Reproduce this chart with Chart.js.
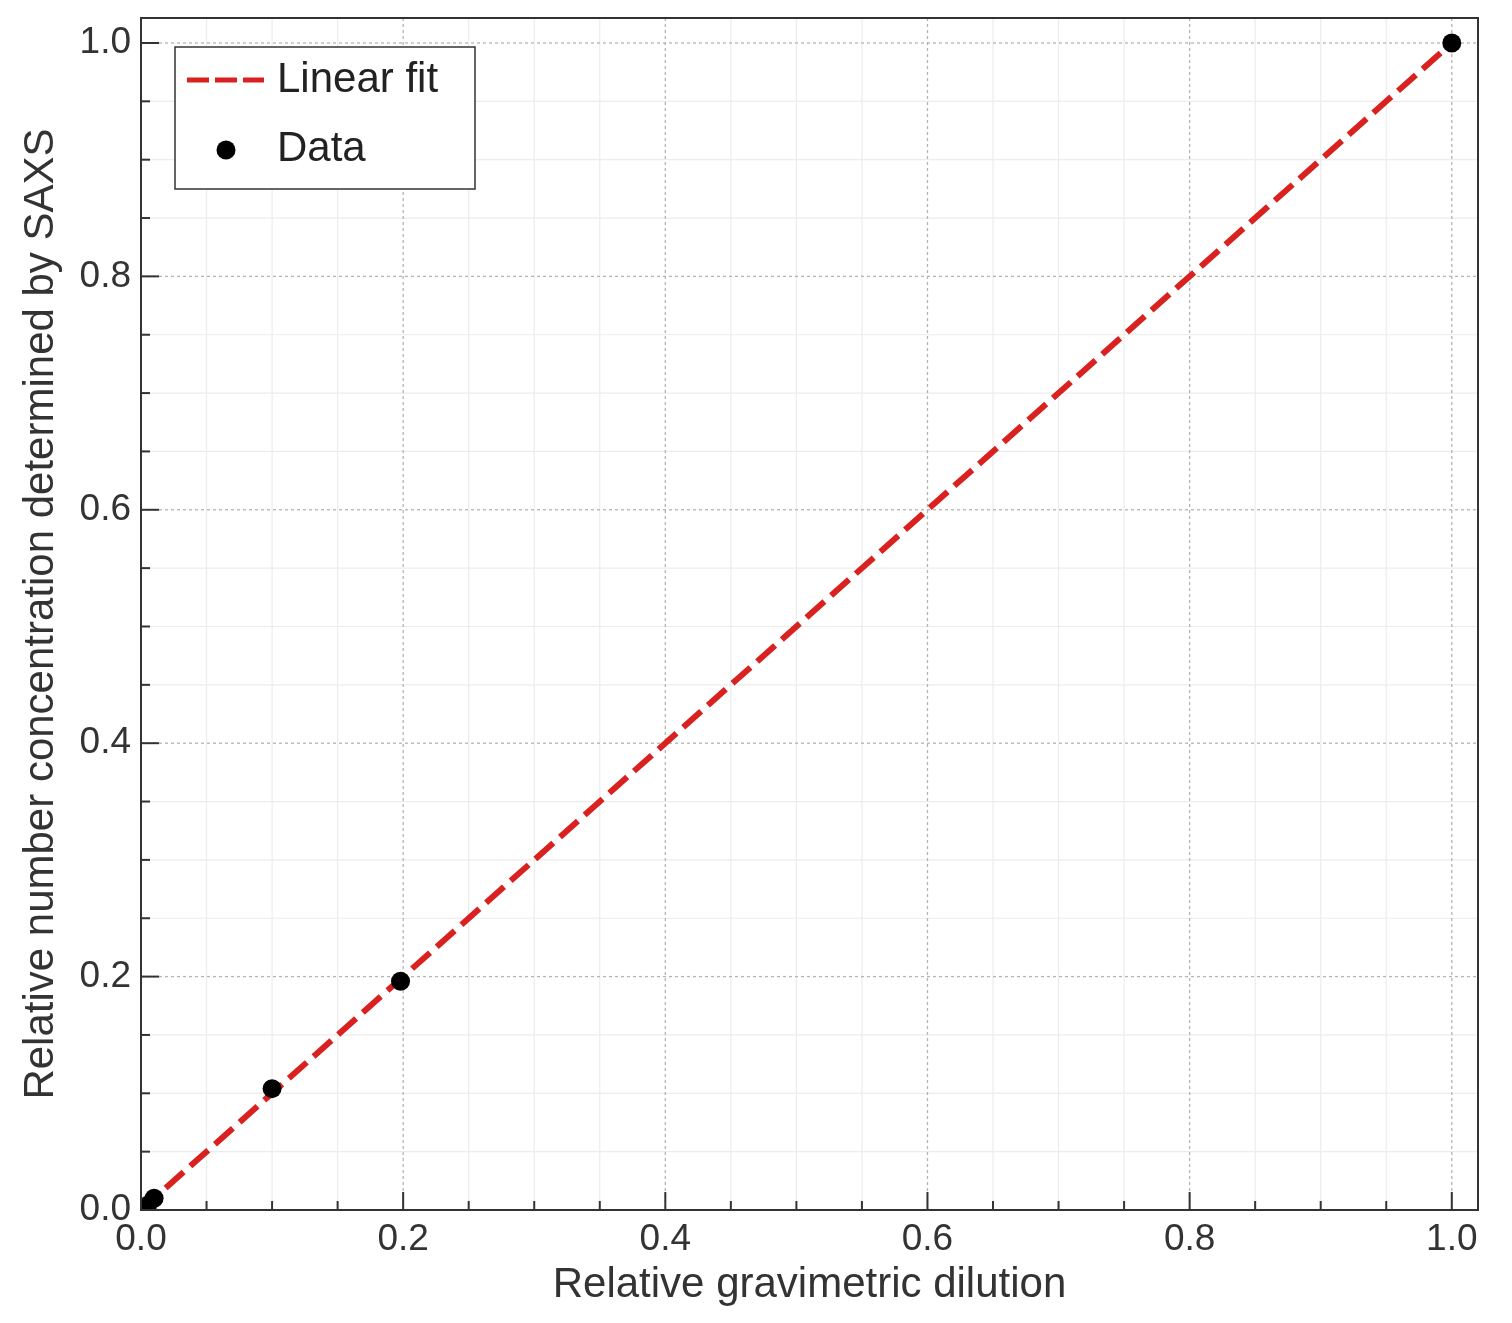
<!DOCTYPE html>
<html>
<head>
<meta charset="utf-8">
<script src="https://cdn.jsdelivr.net/npm/chart.js@4"></script>
<style>
html,body{margin:0;padding:0;background:#fff;}
#wrap{width:1512px;height:1323px;}
</style>
</head>
<body>
<div id="wrap"><canvas id="c" width="1512" height="1323"></canvas></div>
<script>
// ---- data ----
const dataX = [0.005, 0.01, 0.1, 0.198, 1.0];
const dataY = [0.004, 0.01, 0.104, 0.196, 1.0];
const fitX = [0, 1.0];
const fitY = [0, 1.0];
const majorTicks = [0, 0.2, 0.4, 0.6, 0.8, 1.0];
const minorTicks = [0.05,0.1,0.15,0.25,0.3,0.35,0.45,0.5,0.55,0.65,0.7,0.75,0.85,0.9,0.95,1.05];
const seriesNames = ['Linear fit', 'Data'];
const xTitle = 'Relative gravimetric dilution';
const yTitle = 'Relative number concentration determined by SAXS';

const FONT = '"Liberation Sans", Arial, sans-serif';
const RED = '#d92120';
const INK = '#333333';

const decor = {
  id: 'decor',
  beforeDatasetsDraw(chart) {
    const {ctx, chartArea: a, scales: {x, y}} = chart;
    ctx.save();
    ctx.beginPath(); ctx.rect(a.left, a.top, a.right - a.left, a.bottom - a.top); ctx.clip();
    // minor grid
    ctx.strokeStyle = '#ececec'; ctx.lineWidth = 1.2; ctx.setLineDash([]);
    minorTicks.forEach(v => {
      const px = x.getPixelForValue(v), py = y.getPixelForValue(v);
      ctx.beginPath(); ctx.moveTo(px, a.top); ctx.lineTo(px, a.bottom); ctx.stroke();
      ctx.beginPath(); ctx.moveTo(a.left, py); ctx.lineTo(a.right, py); ctx.stroke();
    });
    // major grid
    ctx.strokeStyle = '#b4b4b4'; ctx.lineWidth = 1.3; ctx.setLineDash([3, 3]);
    majorTicks.forEach(v => {
      const px = x.getPixelForValue(v), py = y.getPixelForValue(v);
      ctx.beginPath(); ctx.moveTo(px, a.top); ctx.lineTo(px, a.bottom); ctx.stroke();
      ctx.beginPath(); ctx.moveTo(a.left, py); ctx.lineTo(a.right, py); ctx.stroke();
    });
    ctx.restore();
  },
  afterDatasetsDraw(chart) {
    const {ctx, chartArea: a, scales: {x, y}} = chart;
    ctx.save();
    ctx.setLineDash([]);
    ctx.strokeStyle = INK;
    // ticks inward
    ctx.lineWidth = 2;
    majorTicks.forEach(v => {
      const px = x.getPixelForValue(v), py = y.getPixelForValue(v);
      ctx.beginPath(); ctx.moveTo(px, a.bottom); ctx.lineTo(px, a.bottom - 18); ctx.stroke();
      ctx.beginPath(); ctx.moveTo(a.left, py); ctx.lineTo(a.left + 18, py); ctx.stroke();
    });
    minorTicks.forEach(v => {
      const px = x.getPixelForValue(v), py = y.getPixelForValue(v);
      if (px < a.right) { ctx.beginPath(); ctx.moveTo(px, a.bottom); ctx.lineTo(px, a.bottom - 9); ctx.stroke(); }
      if (py > a.top) { ctx.beginPath(); ctx.moveTo(a.left, py); ctx.lineTo(a.left + 9, py); ctx.stroke(); }
    });
    // frame
    ctx.lineWidth = 2;
    ctx.strokeRect(a.left, a.top, a.right - a.left, a.bottom - a.top);
    // legend
    const ds = chart.data.datasets;
    const bx = 175, by = 47, bw = 300, bh = 142;
    ctx.fillStyle = '#ffffff';
    ctx.fillRect(bx, by, bw, bh);
    ctx.lineWidth = 1.5; ctx.strokeStyle = INK;
    ctx.strokeRect(bx, by, bw, bh);
    ctx.strokeStyle = ds[0].borderColor; ctx.lineWidth = 5;
    ctx.setLineDash([22, 6]);
    ctx.beginPath(); ctx.moveTo(187, 80); ctx.lineTo(264, 80); ctx.stroke();
    ctx.setLineDash([]);
    ctx.fillStyle = ds[1].backgroundColor;
    ctx.beginPath(); ctx.arc(226, 150, 9.5, 0, Math.PI * 2); ctx.fill();
    ctx.fillStyle = '#222';
    ctx.font = '42px ' + FONT;
    ctx.textBaseline = 'middle'; ctx.textAlign = 'left';
    ctx.fillText(ds[0].label, 277, 80);
    ctx.fillText(ds[1].label, 277, 149);
    ctx.restore();
  }
};

new Chart(document.getElementById('c'), {
  type: 'scatter',
  data: {
    datasets: [
      {
        label: seriesNames[0],
        type: 'line',
        data: fitX.map((v, i) => ({x: v, y: fitY[i]})),
        borderColor: RED,
        borderWidth: 6,
        borderDash: [24, 9],
        pointRadius: 0,
        fill: false,
        order: 2
      },
      {
        label: seriesNames[1],
        data: dataX.map((v, i) => ({x: v, y: dataY[i]})),
        backgroundColor: '#000000',
        borderColor: '#000000',
        pointRadius: 9.5,
        pointBorderWidth: 0,
        clip: 0,
        order: 1
      }
    ]
  },
  options: {
    responsive: false,
    animation: false,
    devicePixelRatio: 1,
    layout: {padding: {top: 18, right: 34, left: 0, bottom: 0}},
    plugins: {legend: {display: false}, tooltip: {enabled: false}},
    scales: {
      x: {
        type: 'linear', min: 0, max: 1.02,
        afterBuildTicks(s) { s.ticks = majorTicks.map(v => ({value: v})); },
        afterFit(s) { s.height = 113; s.paddingLeft = 0; s.paddingRight = 0; },
        grid: {display: false, drawTicks: false},
        border: {display: false},
        ticks: {
          padding: 8, color: INK, font: {family: FONT, size: 37},
          callback: v => v.toFixed(1), maxRotation: 0, autoSkip: false
        },
        title: {display: true, text: xTitle, color: INK, font: {family: FONT, size: 42}, padding: {top: 0, bottom: 12}}
      },
      y: {
        type: 'linear', min: 0, max: 1.0214,
        afterBuildTicks(s) { s.ticks = majorTicks.map(v => ({value: v})); },
        afterFit(s) { s.width = 141; s.paddingTop = 0; s.paddingBottom = 0; },
        grid: {display: false, drawTicks: false},
        border: {display: false},
        ticks: {
          padding: 10, color: INK, font: {family: FONT, size: 37},
          callback: v => v.toFixed(1), autoSkip: false
        },
        title: {display: true, text: yTitle, color: INK, font: {family: FONT, size: 42}, padding: {top: 16, bottom: 0}}
      }
    }
  },
  plugins: [decor]
});
</script>
</body>
</html>
